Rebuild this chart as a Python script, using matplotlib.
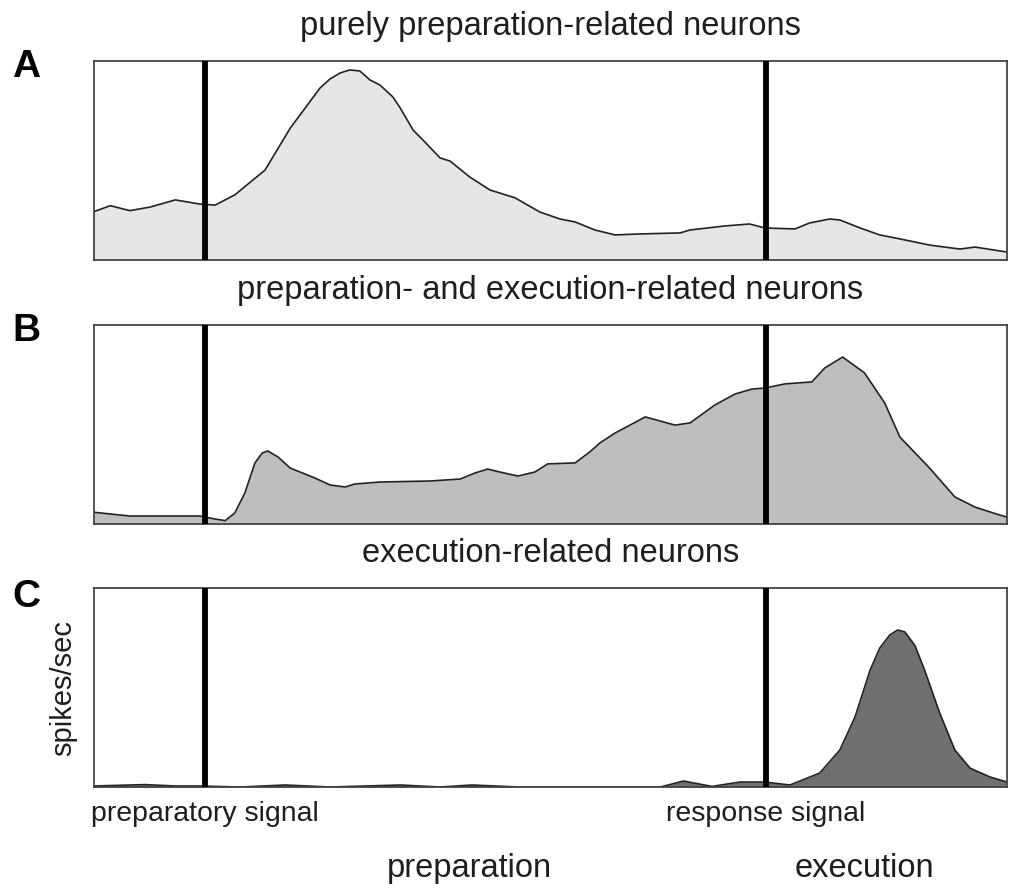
import matplotlib
matplotlib.use("Agg")
import matplotlib.pyplot as plt

plt.rcParams['font.family'] = ['Liberation Sans', 'DejaVu Sans']

# time (ms, relative to preparatory signal) and firing rates (arbitrary units)
t_prep = [-198, -169, -134, -98, -53, -9, 18, 53, 107, 152, 205, 223, 241, 258, 276, 294,
          312, 335, 348, 371, 392, 419, 437, 472, 508, 553, 597, 633, 660, 695, 731, 776,
          847, 865, 927, 971, 998, 1052, 1078, 1114, 1132, 1168, 1203, 1239, 1292, 1346,
          1373, 1430]
rate_prep = [24.3, 27.3, 24.8, 26.6, 30.2, 28.1, 27.6, 32.7, 45.2, 66.3, 86.4, 91.0, 94.0,
             95.5, 95.0, 90.5, 87.9, 81.9, 76.4, 65.3, 59.3, 51.3, 49.7, 41.7, 35.2, 31.2,
             24.1, 20.6, 19.1, 15.1, 12.6, 13.1, 13.6, 15.1, 17.1, 18.1, 16.1, 15.6, 18.6,
             20.6, 20.1, 16.1, 12.6, 10.6, 7.5, 5.5, 6.5, 4.0]

t_both = [-198, -134, -9, 18, 36, 53, 71, 89, 102, 112, 130, 152, 196, 223, 250, 267, 312,
          401, 455, 481, 504, 526, 558, 588, 611, 660, 686, 704, 731, 785, 838, 865, 909,
          945, 975, 998, 1034, 1082, 1105, 1137, 1176, 1212, 1239, 1292, 1337, 1373, 1417,
          1430]
rate_both = [5.9, 4.0, 4.0, 2.5, 1.7, 5.5, 15.6, 30.7, 35.7, 36.7, 33.7, 28.1, 23.1, 19.6,
             18.6, 20.1, 21.1, 21.6, 22.6, 25.6, 27.6, 26.1, 24.1, 26.1, 30.2, 30.7, 36.2,
             40.7, 45.7, 53.8, 49.7, 50.8, 59.8, 65.3, 67.8, 68.3, 70.4, 71.4, 78.4, 83.9,
             75.9, 60.8, 43.7, 28.1, 13.6, 8.5, 4.5, 3.5]

t_exec = [-198, -107, -53, -9, 62, 143, 223, 348, 419, 476, 560, 812, 853, 904, 954, 998,
          1043, 1096, 1132, 1159, 1186, 1203, 1221, 1235, 1248, 1266, 1283, 1310, 1337,
          1364, 1400, 1430]
rate_exec = [0.5, 1.2, 0.5, 0.5, 0.0, 1.0, 0.0, 1.0, 0.0, 1.0, 0.0, 0.0, 3.0, 0.3, 2.5,
             2.5, 1.0, 7.0, 18.6, 35.2, 58.8, 69.8, 76.4, 78.9, 77.9, 71.0, 58.8, 37.2,
             18.6, 9.5, 5.0, 2.5]

panel_letters = ["A", "B", "C"]
panel_titles = ["purely preparation-related neurons",
                "preparation- and execution-related neurons",
                "execution-related neurons"]
fill_colors = ["#e6e6e6", "#bebebe", "#6f6f6f"]
event_times = [0, 1000]
event_labels = ["preparatory signal", "response signal"]
epoch_labels = ["preparation", "execution"]
epoch_centers = [472, 1175]

W, H = 1009, 890
fig = plt.figure(figsize=(W / 100, H / 100), dpi=100)

series = [(t_prep, rate_prep), (t_both, rate_both), (t_exec, rate_exec)]
tops = [61, 325, 588]
letter_baselines = [77, 341, 607]
ax_h = 199
left, right = 94, 1007
text_color = "#1e1e1e"
axes = []
for i, (t, r) in enumerate(series):
    top = tops[i]
    ax = fig.add_axes([left / W, 1 - (top + ax_h) / H, (right - left) / W, ax_h / H])
    ax.fill_between(t, r, 0, color=fill_colors[i], zorder=1, linewidth=0)
    ax.plot(t, r, color="#222222", lw=1.2, zorder=2)
    for et in event_times:
        ax.axvline(et, color="black", lw=4.2, zorder=3)
    ax.set_xlim(-198, 1430)
    ax.set_ylim(0, 100)
    ax.set_xticks([])
    ax.set_yticks([])
    for s in ax.spines.values():
        s.set_color("#444444")
        s.set_linewidth(1.3)
    ax.set_title(panel_titles[i], fontsize=23.5, color=text_color, pad=19)
    fig.text(26 / W, 1 - letter_baselines[i] / H, panel_letters[i], fontsize=28,
             fontweight="bold", ha="center", va="baseline", color="black")
    axes.append(ax)

axC = axes[2]
axC.set_ylabel("spikes/sec", fontsize=21, color=text_color, labelpad=12)
for et, lab in zip(event_times, event_labels):
    axC.annotate(lab, xy=(et, 0), xycoords=("data", "axes fraction"), xytext=(0, -24.5),
                 textcoords="offset points", ha="center", va="baseline", fontsize=20.5,
                 color=text_color)
for ec, lab in zip(epoch_centers, epoch_labels):
    axC.annotate(lab, xy=(ec, 0), xycoords=("data", "axes fraction"), xytext=(0, -65),
                 textcoords="offset points", ha="center", va="baseline", fontsize=23.5,
                 color=text_color)

fig.savefig("out.png", dpi=100)
